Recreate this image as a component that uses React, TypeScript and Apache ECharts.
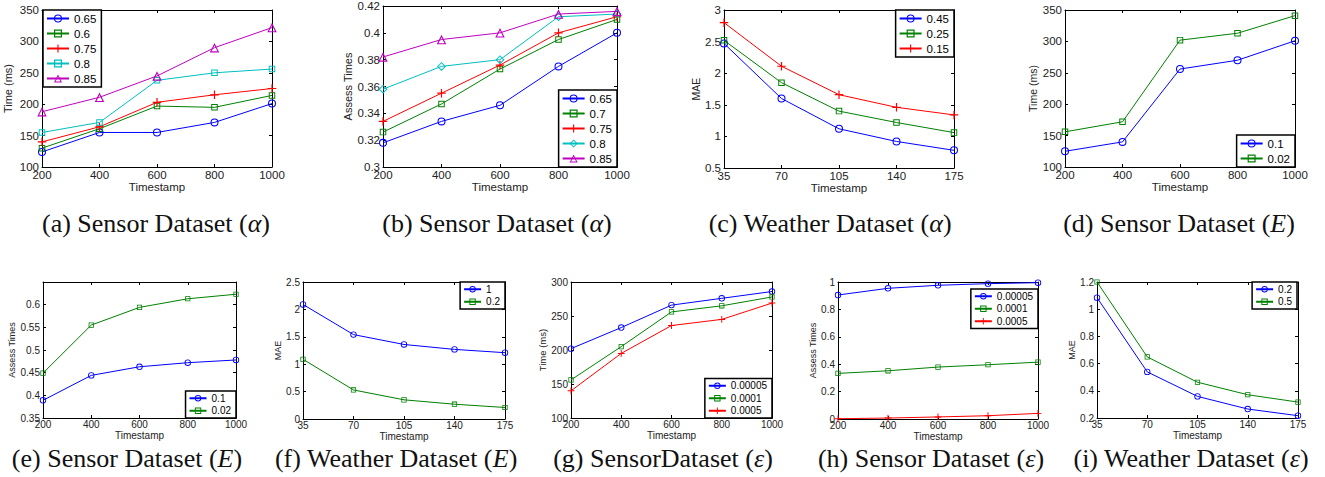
import React, { useEffect, useRef } from 'react';
import * as echarts from 'echarts';

// ---------- data ----------
const xTime = [200, 400, 600, 800, 1000];
const xWeather = [35, 70, 105, 140, 175];

// (a) Sensor Dataset (alpha) - Time (ms)
const a065 = [124, 155, 155, 171, 201];
const a06 = [130, 161, 197, 195, 214];
const a075 = [140, 164, 203, 215, 225];
const a08 = [155, 171, 238, 250, 256];
const a085 = [188, 211, 245, 290, 322];

// (b) Sensor Dataset (alpha) - Assess Times
const b065 = [0.318, 0.334, 0.346, 0.375, 0.4];
const b07 = [0.326, 0.347, 0.373, 0.395, 0.41];
const b075 = [0.334, 0.355, 0.376, 0.4, 0.412];
const b08 = [0.358, 0.375, 0.38, 0.412, 0.414];
const b085 = [0.382, 0.395, 0.4, 0.414, 0.416];

// (c) Weather Dataset (alpha) - MAE
const c045 = [2.47, 1.6, 1.12, 0.92, 0.78];
const c025 = [2.52, 1.85, 1.4, 1.22, 1.06];
const c015 = [2.8, 2.11, 1.66, 1.46, 1.34];

// (d) Sensor Dataset (E) - Time (ms)
const d01 = [125, 140, 256, 270, 301];
const d002 = [156, 172, 302, 313, 341];

// (e) Sensor Dataset (E) - Assess Times
const e01 = [0.389, 0.444, 0.463, 0.472, 0.478];
const e002 = [0.449, 0.555, 0.594, 0.613, 0.623];

// (f) Weather Dataset (E) - MAE
const f1 = [2.09, 1.54, 1.36, 1.27, 1.21];
const f02 = [1.09, 0.53, 0.35, 0.27, 0.21];

// (g) SensorDataset (epsilon) - Time (ms)
const g5e5 = [202, 233, 266, 276, 286];
const g1e4 = [156, 205, 256, 265, 278];
const g5e4 = [140, 195, 236, 245, 269];

// (h) Sensor Dataset (epsilon) - Assess Times
const h5e5 = [0.905, 0.954, 0.976, 0.988, 0.995];
const h1e4 = [0.333, 0.352, 0.379, 0.396, 0.415];
const h5e4 = [0.002, 0.007, 0.015, 0.024, 0.041];

// (i) Weather Dataset (epsilon) - MAE
const i02 = [1.085, 0.539, 0.359, 0.266, 0.217];
const i05 = [1.2, 0.649, 0.463, 0.371, 0.317];

// caption parts: [prefix, italic symbol]
const topCaptions: [string, string][] = [
  ['(a) Sensor Dataset (', 'α'],
  ['(b) Sensor Dataset (', 'α'],
  ['(c) Weather Dataset (', 'α'],
  ['(d) Sensor Dataset (', 'E'],
];
const bottomCaptions: [string, string][] = [
  ['(e) Sensor Dataset (', 'E'],
  ['(f) Weather Dataset (', 'E'],
  ['(g) SensorDataset (', 'ε'],
  ['(h) Sensor Dataset (', 'ε'],
  ['(i) Weather Dataset (', 'ε'],
];

// ---------- styles ----------
const BLUE = '#0000ff';
const GREEN = '#008000';
const RED = '#ff0000';
const CYAN = '#00bfbf';
const MAGENTA = '#bf00bf';

const CIRCLE = 'path://M5,0A5,5 0 1,1 5,10A5,5 0 1,1 5,0ZM5,1.3A3.7,3.7 0 1,0 5,8.7A3.7,3.7 0 1,0 5,1.3Z';
const SQUARE = 'path://M0,0H10V10H0ZM1.5,1.5V8.5H8.5V1.5Z';
const PLUS = 'path://M4.3,0H5.7V4.3H10V5.7H5.7V10H4.3V5.7H0V4.3H4.3Z';
const DIAMOND = 'path://M5,0L10,5L5,10L0,5ZM5,1.6L1.6,5L5,8.4L8.4,5Z';
const TRIANGLE = 'path://M5,0L10,10L0,10ZM5,2.6L1.9,8.8L8.1,8.8Z';

const SYMSIZE: Record<string, number> = {
  [CIRCLE]: 8,
  [SQUARE]: 6.5,
  [PLUS]: 8.5,
  [DIAMOND]: 9,
  [TRIANGLE]: 9.5,
};

const SANS = 'Liberation Sans, Arial, Helvetica, sans-serif';
const SERIF_FONT = 'Liberation Serif';

const ROWS: any = {
  top: { tick: 11.5, xName: 11.5, xNameGap: 14, legendFont: 11.5, legendRow: 15, iconW: 22, iconH: 10, sym: 1 },
  bottom: { tick: 10, xName: 10, xNameGap: 11.5, legendFont: 10, legendRow: 12.5, iconW: 17, iconH: 8, sym: 0.8 },
};

type S = { label: string; values: number[]; color: string; symbol: string };
const s = (label: string, values: number[], color: string, symbol: string): S => ({ label, values, color, symbol });

const PANELS: any[] = [
  {
    id: 'a', row: 'top', x: xTime, xMin: 200, xMax: 1000, xInt: 200,
    yMin: 100, yMax: 350, yInt: 50, yName: 'Time (ms)', yNameSize: 11, yNameGap: 28.5,
    grid: { left: 42, top: 10, width: 230, height: 157 },
    legend: { left: 43, top: 10 },
    series: [s('0.65', a065, BLUE, CIRCLE), s('0.6', a06, GREEN, SQUARE), s('0.75', a075, RED, PLUS), s('0.8', a08, CYAN, SQUARE), s('0.85', a085, MAGENTA, TRIANGLE)],
  },
  {
    id: 'b', row: 'top', x: xTime, xMin: 200, xMax: 1000, xInt: 200,
    yMin: 0.3, yMax: 0.42, yInt: 0.02, yName: 'Assess Times', yNameSize: 11, yNameGap: 25.5,
    grid: { left: 383, top: 6, width: 234, height: 161 },
    legend: { right: 1325 - 617, bottom: 477 - 167 },
    series: [s('0.65', b065, BLUE, CIRCLE), s('0.7', b07, GREEN, SQUARE), s('0.75', b075, RED, PLUS), s('0.8', b08, CYAN, DIAMOND), s('0.85', b085, MAGENTA, TRIANGLE)],
  },
  {
    id: 'c', row: 'top', x: xWeather, xMin: 35, xMax: 175, xInt: 35,
    yMin: 0.5, yMax: 3, yInt: 0.5, yName: 'MAE', yNameSize: 10.5, yNameGap: 22.5,
    grid: { left: 724, top: 10, width: 230, height: 158 },
    legend: { right: 1325 - 954, top: 10 },
    series: [s('0.45', c045, BLUE, CIRCLE), s('0.25', c025, GREEN, SQUARE), s('0.15', c015, RED, PLUS)],
  },
  {
    id: 'd', row: 'top', x: xTime, xMin: 200, xMax: 1000, xInt: 200,
    yMin: 100, yMax: 350, yInt: 50, yName: 'Time (ms)', yNameSize: 10.5, yNameGap: 27,
    grid: { left: 1065, top: 10, width: 230, height: 157 },
    legend: { right: 1325 - 1295, bottom: 477 - 167 },
    series: [s('0.1', d01, BLUE, CIRCLE), s('0.02', d002, GREEN, SQUARE)],
  },
  {
    id: 'e', row: 'bottom', x: xTime, xMin: 200, xMax: 1000, xInt: 200,
    yMin: 0.35, yMax: 0.65, yInt: 0.05, hideYMax: true, yName: 'Assess Times', yNameSize: 9, yNameGap: 25.5,
    grid: { left: 43, top: 282, width: 193, height: 136 },
    legend: { right: 1325 - 236, bottom: 477 - 418 },
    series: [s('0.1', e01, BLUE, CIRCLE), s('0.02', e002, GREEN, SQUARE)],
  },
  {
    id: 'f', row: 'bottom', x: xWeather, xMin: 35, xMax: 175, xInt: 35,
    yMin: 0, yMax: 2.5, yInt: 0.5, yName: 'MAE', yNameSize: 9, yNameGap: 20.5,
    grid: { left: 303, top: 282, width: 202, height: 137 },
    legend: { right: 1325 - 505, top: 282 },
    series: [s('1', f1, BLUE, CIRCLE), s('0.2', f02, GREEN, SQUARE)],
  },
  {
    id: 'g', row: 'bottom', x: xTime, xMin: 200, xMax: 1000, xInt: 200,
    yMin: 100, yMax: 300, yInt: 50, yName: 'Time (ms)', yNameSize: 9.5, yNameGap: 23,
    grid: { left: 571, top: 282, width: 201, height: 136 },
    legend: { right: 1325 - 772, bottom: 477 - 418 },
    series: [s('0.00005', g5e5, BLUE, CIRCLE), s('0.0001', g1e4, GREEN, SQUARE), s('0.0005', g5e4, RED, PLUS)],
  },
  {
    id: 'h', row: 'bottom', x: xTime, xMin: 200, xMax: 1000, xInt: 200,
    yMin: 0, yMax: 1, yInt: 0.2, yName: 'Assess Times', yNameSize: 9, yNameGap: 20.5,
    grid: { left: 838, top: 282, width: 200, height: 137 },
    legend: { right: 1325 - 1038, top: 289 },
    series: [s('0.00005', h5e5, BLUE, CIRCLE), s('0.0001', h1e4, GREEN, SQUARE), s('0.0005', h5e4, RED, PLUS)],
  },
  {
    id: 'i', row: 'bottom', x: xWeather, xMin: 35, xMax: 175, xInt: 35,
    yMin: 0.2, yMax: 1.2, yInt: 0.2, yName: 'MAE', yNameSize: 9, yNameGap: 19.5,
    grid: { left: 1097, top: 282, width: 201, height: 136 },
    legend: { right: 1325 - 1297, top: 282 },
    series: [s('0.2', i02, BLUE, CIRCLE), s('0.5', i05, GREEN, SQUARE)],
  },
];

const TOP_CAPTION_POS = [{ x: 156, y: 227 }, { x: 497, y: 227 }, { x: 830, y: 227 }, { x: 1179, y: 227 }];
// positions inside the caption strip (strip starts at y = 440)
const STRIP_TOP = 440;
const STRIP_HEIGHT = 37;
const BOTTOM_CAPTION_POS = [{ x: 127, y: 22 }, { x: 396, y: 22 }, { x: 663, y: 22 }, { x: 931, y: 22 }, { x: 1191, y: 22 }];
const CAPTION_SIZE = 26;

const zip = (xs: number[], ys: number[]) => xs.map((x, k) => [x, ys[k]]);
const fmt = (v: number) => String(Number(v.toFixed(6)));

const AXIS_LINE = { show: true, onZero: false, lineStyle: { color: '#000', width: 1 } };
const AXIS_TICK = { show: true, inside: true, length: 3, lineStyle: { color: '#000', width: 1 } };

function captionTitles(parts: [string, string][], pos: { x: number; y: number }[]) {
  return parts.map(([pre, sym], k) => ({
    text: '{r|' + pre + '}{i|' + sym + '}{r|)}',
    left: pos[k].x,
    top: pos[k].y - CAPTION_SIZE * 0.62,
    textAlign: 'center',
    padding: 0,
    textStyle: {
      fontSize: CAPTION_SIZE,
      fontFamily: SERIF_FONT,
      fontWeight: 'normal',
      color: '#111',
      lineHeight: CAPTION_SIZE,
      rich: {
        r: { fontSize: CAPTION_SIZE, fontFamily: SERIF_FONT, fontStyle: 'normal', color: '#111', lineHeight: CAPTION_SIZE },
        i: { fontSize: CAPTION_SIZE, fontFamily: SERIF_FONT, fontStyle: 'italic', color: '#111', lineHeight: CAPTION_SIZE },
      },
    },
  }));
}

function buildOption() {
  const xAxis: any[] = [];
  const yAxis: any[] = [];
  const series: any[] = [];
  const legend: any[] = [];
  PANELS.forEach((p, i) => {
    const r = ROWS[p.row];
    xAxis.push({
      type: 'value', gridIndex: i, min: p.xMin, max: p.xMax, interval: p.xInt, position: 'bottom',
      axisLine: AXIS_LINE, axisTick: AXIS_TICK, splitLine: { show: false },
      axisLabel: { margin: 1.5, fontSize: r.tick, color: '#222', fontFamily: SANS, formatter: fmt },
      name: 'Timestamp', nameLocation: 'middle', nameGap: r.xNameGap,
      nameTextStyle: { fontSize: r.xName, color: '#222', fontFamily: SANS },
    });
    xAxis.push({
      type: 'value', gridIndex: i, min: p.xMin, max: p.xMax, interval: p.xInt, position: 'top',
      axisLine: AXIS_LINE, axisTick: AXIS_TICK, splitLine: { show: false }, axisLabel: { show: false },
    });
    yAxis.push({
      type: 'value', gridIndex: i, min: p.yMin, max: p.yMax, interval: p.yInt, position: 'left',
      axisLine: AXIS_LINE, axisTick: AXIS_TICK, splitLine: { show: false },
      axisLabel: { margin: 3, fontSize: r.tick, color: '#222', fontFamily: SANS, formatter: fmt, showMaxLabel: p.hideYMax ? false : null },
      name: p.yName, nameLocation: 'middle', nameGap: p.yNameGap,
      nameTextStyle: { fontSize: p.yNameSize, color: '#222', fontFamily: SANS },
    });
    yAxis.push({
      type: 'value', gridIndex: i, min: p.yMin, max: p.yMax, interval: p.yInt, position: 'right',
      axisLine: AXIS_LINE, axisTick: AXIS_TICK, splitLine: { show: false }, axisLabel: { show: false },
    });
    p.series.forEach((sr: S, k: number) => {
      series.push({
        type: 'line',
        name: p.id + '|' + sr.label,
        xAxisIndex: 2 * i,
        yAxisIndex: 2 * i,
        data: zip(p.x, sr.values),
        symbol: sr.symbol,
        symbolSize: SYMSIZE[sr.symbol] * r.sym,
        showSymbol: true,
        lineStyle: { color: sr.color, width: 1 },
        itemStyle: { color: sr.color, borderWidth: 0 },
        emphasis: { disabled: true },
        silent: true,
        z: 2 + k,
      });
    });
    legend.push({
      orient: 'vertical',
      ...p.legend,
      data: p.series.map((sr: S) => p.id + '|' + sr.label),
      formatter: (n: string) => n.split('|')[1],
      selectedMode: false,
      backgroundColor: '#fff',
      borderColor: '#000',
      borderWidth: 1.5,
      borderRadius: 0,
      padding: [1, 5, 1, 3],
      itemGap: 0,
      itemWidth: r.iconW,
      itemHeight: r.iconH,
      textStyle: { fontSize: r.legendFont, lineHeight: r.legendRow, color: '#000', fontFamily: SANS },
      z: 10,
    });
  });

  return {
    animation: false,
    backgroundColor: 'transparent',
    textStyle: { fontFamily: SANS },
    title: captionTitles(topCaptions, TOP_CAPTION_POS),
    grid: PANELS.map((p) => ({ ...p.grid, containLabel: false })),
    xAxis,
    yAxis,
    legend,
    series,
  };
}

function buildCaptionOption() {
  return {
    animation: false,
    backgroundColor: 'transparent',
    textStyle: { fontFamily: SERIF_FONT },
    title: captionTitles(bottomCaptions, BOTTOM_CAPTION_POS),
  };
}

export default function App() {
  const ref = useRef<HTMLDivElement>(null);
  const capRef = useRef<HTMLDivElement>(null);
  useEffect(() => {
    if (!ref.current || !capRef.current) return;
    const chart = echarts.init(ref.current, undefined, { renderer: 'svg' });
    chart.setOption(buildOption() as any);
    const capChart = echarts.init(capRef.current, undefined, { renderer: 'svg' });
    capChart.setOption(buildCaptionOption() as any);
    return () => {
      chart.dispose();
      capChart.dispose();
    };
  }, []);
  return (
    <div style={{ position: 'absolute', left: 0, top: 0, width: 1325, height: 477, background: '#fff' }}>
      <div ref={ref} style={{ position: 'absolute', left: 0, top: 0, width: 1325, height: 477 }} />
      <div
        ref={capRef}
        style={{ position: 'absolute', left: 0, top: STRIP_TOP, width: 1325, height: STRIP_HEIGHT }}
      />
    </div>
  );
}
